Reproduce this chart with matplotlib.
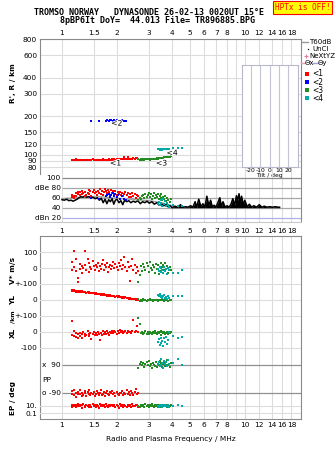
import matplotlib
matplotlib.use('Agg')
import matplotlib.pyplot as plt
import matplotlib.patheffects as pe

W, H = 335, 451
plt.rcParams['font.family'] = 'DejaVu Sans'

# echo traces: freq (MHz), R' (km), V* (m/s), YL, XL (km), PP, EP (deg), amplitude (dBe)
red_f = [1.13, 1.14, 1.16, 1.17, 1.19, 1.20, 1.22, 1.23,
         1.25, 1.26, 1.28, 1.29, 1.31, 1.33, 1.34, 1.36,
         1.38, 1.40, 1.41, 1.43, 1.45, 1.47, 1.49, 1.51,
         1.53, 1.55, 1.57, 1.59, 1.61, 1.63, 1.65, 1.67,
         1.69, 1.72, 1.74, 1.76, 1.78, 1.81, 1.83, 1.86,
         1.88, 1.91, 1.93, 1.96, 1.99, 2.02, 2.04, 2.07,
         2.10, 2.13, 2.16, 2.19, 2.22, 2.26, 2.29, 2.32,
         2.36, 2.39, 2.43, 2.46, 2.50, 2.54, 2.58, 2.62]
red_h = [91.5, 92.0, 91.2, 91.8, 92.3, 91.0, 91.6, 92.1,
         91.4, 90.8, 91.9, 92.2, 91.3, 91.7, 90.9, 91.5,
         92.0, 91.2, 91.6, 90.7, 91.8, 92.4, 91.1, 91.5,
         91.9, 91.3, 90.9, 91.6, 92.1, 91.4, 91.8, 92.3,
         91.0, 91.7, 92.2, 91.5, 91.9, 92.6, 91.4, 92.0,
         92.3, 91.8, 92.5, 92.0, 92.8, 93.2, 92.4, 92.9,
         93.4, 92.7, 93.1, 95.8, 93.5, 92.9, 96.2, 93.3,
         93.8, 92.8, 93.5, 94.1, 93.2, 93.9, 94.4, 93.6]
red_v = [41, -15, 8, 110, 60, -20, -88, -60,
         25, -5, 12, -30, 3, 110, 18, -10,
         60, -22, 30, 5, -8, 45, 15, -12,
         22, 8, 35, -18, 12, -4, 28, 50,
         -10, 18, 5, 32, -25, 10, 22, -6,
         15, 40, -2, 25, 8, -15, 30, 12,
         54, -3, 20, 69, 10, -20, 38, 5,
         -84, 15, 58, -12, 22, -30, 8, -18]
red_yl = [63, 58, 61, 55, 59, 53, 57, 52,
          55, 50, 54, 49, 52, 47, 51, 46,
          49, 44, 47, 42, 46, 41, 44, 40,
          42, 37, 40, 35, 39, 34, 37, 33,
          35, 30, 33, 28, 31, 26, 30, 25,
          27, 22, 25, 20, 24, 18, 22, 17,
          19, 14, 17, 12, 16, 10, 14, 9,
          11, 6, 9, 4, 8, 2, 6, 0]
red_xl = [70, -18, -25, 5, -8, -30, -15, -40,
          -5, -22, -12, -35, -2, -28, -10, -20,
          8, -15, -25, -6, -45, -12, -3, -18,
          -8, -20, 2, -14, -50, -6, -16, 4,
          -10, 0, -12, 6, -4, -18, 2, -8,
          5, -6, 8, -2, -10, 4, -5, 10,
          -3, 6, -8, 2, 9, -4, 5, -1,
          3, -6, 7, 75, -2, 8, 37, 1]
red_pp = [-78, -95, -70, -102, -88, -110, -82, -96,
          -68, -92, -105, -85, -99, -75, -90, -108,
          -84, -97, -72, -101, -88, -93, -80, -106,
          -95, -78, -90, -103, -86, -70, -98, -92,
          -82, -107, -89, -76, -95, -100, -84, -91,
          -73, -96, -88, -104, -80, -93, -99, -86,
          -90, -77, -102, -85, -95, -66, -92, -81,
          -98, -74, -89, -100, -83, -62, -94, -88]
red_ep = [12, 5, 20, 8, 15, 4, 25, 10,
          7, 18, 3, 13, 22, 6, 11, 16,
          9, 4, 19, 12, 6, 28, 8, 14,
          5, 17, 10, 3, 21, 9, 13, 7,
          15, 6, 24, 11, 4, 18, 8, 12,
          20, 7, 13, 5, 16, 10, 3, 22,
          8, 14, 6, 19, 11, 4, 17, 9,
          13, 5, 21, 10, 7, 15, 12, 6]
red_amp = [62, 66, 60, 64, 70, 63, 68, 72,
           65, 71, 67, 74, 69, 63, 72, 66,
           70, 75, 68, 73, 64, 71, 76, 69,
           72, 66, 74, 70, 77, 68, 73, 65,
           71, 78, 74, 69, 76, 72, 66, 75,
           70, 73, 67, 74, 65, 71, 68, 72,
           66, 70, 63, 68, 72, 65, 69, 62,
           67, 61, 70, 64, 68, 60, 65, 63]

blue_f = [1.44, 1.59, 1.74, 1.77, 1.80, 1.83, 1.86, 1.89,
          1.92, 1.95, 1.99, 2.03, 2.08, 2.13, 2.19, 2.24]
blue_h = [183, 183, 185, 186, 185, 187, 186, 184,
          186, 185, 186, 184, 185, 186, 184, 185]
blue_amp = [60, 57, 63, 66, 68, 62, 65, 70,
            64, 67, 61, 66, 58, 63, 57, 55]

green_f = [2.62, 2.66, 2.70, 2.74, 2.78, 2.82, 2.86, 2.90,
           2.94, 2.98, 3.02, 3.06, 3.10, 3.14, 3.18, 3.22,
           3.26, 3.30, 3.34, 3.38, 3.42, 3.46, 3.50, 3.54,
           3.58, 3.62, 3.66, 3.70, 3.76, 3.82, 3.88, 3.95]
green_h = [92.5, 91.8, 92.8, 92.2, 93.0, 91.9, 92.6, 93.1,
           92.4, 92.9, 92.0, 93.3, 92.7, 93.5, 92.9, 93.8,
           93.2, 94.0, 93.6, 94.3, 94.8, 94.1, 95.0, 95.4,
           95.1, 95.8, 96.2, 95.7, 96.6, 97.0, 96.5, 97.4]
green_v = [-85, -42, 12, -20, 25, 5, -10, 30,
           15, -25, 38, 0, -15, 22, 8, -30,
           28, -8, 18, -35, 10, 35, -18, 4,
           20, -12, 32, -5, 14, -28, 6, -15]
green_yl = [8, -8, 2, -4, 5, -2, 3, -6,
            1, -3, 4, -1, 2, -5, 0, 3,
            -2, 1, -4, 2, -1, 3, -3, 0,
            2, -6, 1, -2, 4, -8, 0, -3]
green_xl = [86, 50, -8, 2, -12, -4, 5, -15,
            -2, -10, 3, -6, -14, 0, -8, 4,
            -5, -12, 2, -9, -3, 6, -16, -1,
            -7, 3, -11, -4, 1, -13, -6, 0]
green_pp = [72, 95, 110, 85, 100, 78, 92, 105,
            88, 115, 80, 97, 70, 102, 90, 84,
            108, 76, 94, 86, 112, 82, 99, 73,
            96, 104, 81, 90, 118, 87, 75, 100]
green_ep = [10, 5, 18, 8, 14, 6, 22, 9,
            12, 4, 16, 7, 25, 11, 5, 13,
            8, 20, 6, 15, 10, 4, 17, 9,
            14, 7, 11, 19, 5, 12, 8, 16]
green_amp = [55, 60, 57, 63, 66, 59, 68, 62,
             65, 70, 61, 67, 58, 64, 69, 60,
             66, 62, 68, 57, 64, 60, 67, 55,
             61, 58, 64, 54, 60, 56, 52, 58]

cyan_f = [3.34, 3.38, 3.42, 3.46, 3.50, 3.54, 3.58, 3.62,
          3.66, 3.70, 3.74, 3.78, 3.84, 4.05, 4.30, 4.52]
cyan_h = [110.5, 111.0, 110.0, 110.8, 111.2, 110.3, 110.9, 111.5,
          110.6, 111.1, 110.4, 111.3, 110.8, 112.5, 113.0, 112.7]
cyan_v = [-5, -18, 10, -25, 2, -12, -30, 5,
          -20, -8, -35, -2, -15, -28, -30, -10]
cyan_yl = [30, 22, 35, 18, 28, 12, 25, 32,
           15, 20, 8, 26, 14, 24, 25, 25]
cyan_xl = [-60, -45, -80, -35, -70, -55, -88, -40,
           -65, -30, -75, -50, 0, -25, -40, -30]
cyan_pp = [95, 110, 80, 125, 88, 100, 72, 115,
           92, 105, 84, 118, 96, 102, 128, 85]
cyan_ep = [10, 6, 14, 8, 18, 5, 12, 9,
           15, 7, 11, 13, 6, 10, 12, 9]
cyan_amp = [48, 52, 45, 55, 50, 43, 58, 47,
            53, 44, 50, 46, 42, 45, 44, 43]

# receiver noise / clutter level (dBe)
noise_f = [1.00, 1.03, 1.06, 1.09, 1.12, 1.15, 1.18, 1.21, 1.24, 1.27,
           1.30, 1.33, 1.36, 1.40, 1.44, 1.48, 1.52, 1.56, 1.60, 1.64,
           1.68, 1.72, 1.76, 1.80, 1.84, 1.88, 1.92, 1.96, 2.00, 2.05,
           2.10, 2.15, 2.20, 2.26, 2.32, 2.38, 2.45, 2.52, 2.60, 2.68,
           2.76, 2.84, 2.92, 3.00, 3.10, 3.20, 3.30, 3.40, 3.50, 3.60,
           3.70, 3.80, 3.90, 4.00, 4.15, 4.30, 4.45, 4.60, 4.75, 4.90,
           5.05, 5.20, 5.35, 5.45, 5.60, 5.75, 5.90, 6.05, 6.20, 6.35,
           6.50, 6.65, 6.80, 6.95, 7.10, 7.30, 7.45, 7.60, 7.80, 8.00,
           8.20, 8.40, 8.60, 8.80, 9.00, 9.15, 9.30, 9.45, 9.60, 9.80,
           10.0, 10.3, 10.6, 10.9, 11.2, 11.6, 12.0, 12.4, 12.8, 13.2,
           13.7, 14.2, 14.7, 15.2, 15.5]
noise_db = [56, 55, 57, 54, 55, 53, 55, 57, 60, 62,
            61, 63, 61, 62, 60, 61, 58, 60, 55, 59,
            50, 57, 48, 56, 52, 58, 47, 55, 57, 50,
            54, 46, 55, 52, 54, 50, 53, 51, 54, 48,
            52, 50, 53, 49, 52, 47, 50, 45, 48, 44,
            46, 42, 44, 40, 43, 41, 46, 41, 42, 41,
            44, 41, 52, 41, 57, 42, 48, 41, 63, 44,
            55, 41, 45, 41, 49, 60, 42, 52, 41, 44,
            41, 47, 58, 45, 64, 55, 68, 50, 63, 46,
            55, 42, 47, 41, 44, 41, 46, 41, 43, 41,
            42, 41, 42, 41, 41]
t60_f = [1.0, 1.3, 1.6, 2.0, 2.5, 3.0, 3.5, 4.0]
t60_db = [58, 61, 62, 59, 56, 54, 50, 44]

freq_ticks = [1, 1.5, 2, 3, 4, 5, 6, 7, 8, 9, 10, 12, 14, 16, 18]
freq_labels = ['1', '1.5', '2', '3', '4', '5', '6', '7', '8', '9', '10', '12', '14', '16', '18']
height_ticks = [80, 90, 100, 120, 150, 200, 300, 400, 600, 800]
tilt_ticks = [-20, -10, 0, 10, 20]

FMIN, FMAX = 0.758, 20.3
GRID = '#dcdcdc'
FRAME = '#8a8a8a'
FS = 5.3


def box(x0, y0, x1, y1):
    return [x0 / W, 1 - y1 / H, (x1 - x0) / W, (y1 - y0) / H]


def freq_axes(x0, y0, x1, y1):
    ax = fig.add_axes(box(x0, y0, x1, y1))
    ax.set_facecolor('none')
    ax.set_xscale('log')
    ax.set_xlim(FMIN, FMAX)
    ax.minorticks_off()
    ax.set_xticks(freq_ticks)
    ax.set_xticklabels([])
    ax.tick_params(length=0, labelsize=FS, pad=2)
    for s in ax.spines.values():
        s.set_color(FRAME)
        s.set_linewidth(0.8)
    return ax


def dots(ax, f, y, color, ms=1.6):
    ax.plot(f, y, 's', ms=ms, mew=0, color=color, zorder=3)


fig = plt.figure(figsize=(W / 100, H / 100), dpi=100)

RED, BLUE, GREEN, CYAN = '#ff0000', '#0000ff', '#228b22', '#00aaaa'

# ---- range panel
ax_h = freq_axes(40, 39, 301, 174)
ax_h.set_yscale('log')
ax_h.set_ylim(71.1, 800)
ax_h.minorticks_off()
ax_h.set_xticks(freq_ticks)
ax_h.set_xticklabels([l if l != '9' else '' for l in freq_labels])
ax_h.xaxis.tick_top()
ax_h.set_yticks(height_ticks)
ax_h.set_yticklabels([str(t) for t in height_ticks])
ax_h.tick_params(length=0, labelsize=FS, pad=2)
ax_h.grid(True, color=GRID, lw=0.8)
ax_h.spines['bottom'].set_visible(False)
dots(ax_h, red_f, red_h, RED)
dots(ax_h, blue_f, blue_h, BLUE)
dots(ax_h, green_f, green_h, GREEN)
dots(ax_h, cyan_f, cyan_h, CYAN)
halo = [pe.withStroke(linewidth=1.5, foreground='white')]
for f, h, lab in [(1.96, 86.6, '<1'), (1.99, 177, '<2'), (3.5, 86.6, '<3'), (4.0, 104, '<4')]:
    ax_h.text(f, h, lab, fontsize=5.5, ha='center', va='center', path_effects=halo, zorder=4)

# tilt inset
ax_t = fig.add_axes(box(241.7, 65, 297.7, 167))
ax_t.set_xlim(-30, 30)
ax_t.set_yticks([])
ax_t.set_xticks(tilt_ticks)
ax_t.set_xticklabels(['-20', '-10', '0', '10', '20'])
ax_t.tick_params(length=0, labelsize=4.3, pad=1)
ax_t.set_xlabel('Tilt / deg', fontsize=4.3, labelpad=0)
for t in tilt_ticks:
    ax_t.axvline(t, color='#c4c4d4', lw=0.8)
for s in ax_t.spines.values():
    s.set_color('#b8b8cc')

# ---- amplitude panel
ax_d = freq_axes(40, 174, 301, 222)
ax_d.set_ylim(11.4, 107.4)
ax_d.set_yticks([])
ax_d.set_xticklabels(freq_labels)
ax_d.tick_params(axis='x', pad=4)
ax_d.grid(True, axis='x', color=GRID, lw=0.8)
ax_d.spines['left'].set_visible(False)
ax_d.spines['top'].set_visible(False)
ax_d.spines['bottom'].set_color('#c8c8c8')
for lev, lab in [(100, '100'), (80, 'dBe 80'), (60, '60'), (40, '40'), (20, 'dBn 20')]:
    col = '#b0b0e8' if lev == 20 else ('#8a8a8a' if lev == 100 else '#a8a8a8')
    ax_d.hlines(lev, 1.0, FMAX, color=col, lw=0.9)
    ax_d.text(0.985, lev, lab, ha='right', va='center', fontsize=FS)
ax_d.plot(t60_f, t60_db, color='#a0a0a0', lw=1.0, zorder=2)
ax_d.fill_between(noise_f, 40, noise_db, where=[f >= 4.0 for f in noise_f],
                  color='black', lw=0, zorder=2)
ax_d.plot(noise_f, noise_db, color='black', lw=1.1, zorder=2)
dots(ax_d, red_f, red_amp, RED, 1.9)
dots(ax_d, blue_f, blue_amp, BLUE, 1.9)
dots(ax_d, green_f, green_amp, GREEN, 1.9)
dots(ax_d, cyan_f, cyan_amp, CYAN, 1.9)

# ---- lower frame
ax_low = freq_axes(40, 235.7, 301, 419)
ax_low.set_yticks([])
ax_low.set_xticklabels([l if l != '9' else '' for l in freq_labels])
ax_low.grid(True, axis='x', color=GRID, lw=0.8)
ax_low.set_xlabel('Radio and Plasma Frequency / MHz', fontsize=5.3, labelpad=6)


def strip(y0, y1, ylim, ticks, labels, log=False):
    ax = freq_axes(40, y0, 301, y1)
    if log:
        ax.set_yscale('log')
    ax.set_ylim(*ylim)
    ax.minorticks_off()
    ax.set_xticks([])
    ax.set_yticks(ticks)
    ax.set_yticklabels(labels)
    ax.tick_params(length=0, labelsize=FS, pad=2)
    for s in ax.spines.values():
        s.set_visible(False)
    return ax


ax_v = strip(235.7, 284, (-100, 204), [100, 0], ['100', '0'])
ax_yl = strip(284, 316, (-100, 100), [100, 0], ['+-100', '0'])
ax_xl = strip(316, 356, (-150, 100), [100, 0, -100], ['+-100', '0', '-100'])
ax_pp = strip(356, 400, (-132, 144.7), [], [])
ax_ep = strip(400, 419, (10 ** -2.5, 10 ** 2.5), [10, 0.1], ['10.', '0.1'], log=True)

for ax, levs in [(ax_v, [100, 0]), (ax_yl, [100, 0]), (ax_xl, [100, 0, -100]), (ax_ep, [10, 0.1])]:
    for lev in levs:
        ax.axhline(lev, color=GRID, lw=0.8, zorder=1)
ax_pp.hlines([90, -90], 1.0, FMAX, color='#909090', lw=0.9)
ax_pp.text(0.985, 90, 'x  90', ha='right', va='center', fontsize=FS)
ax_pp.text(0.985, -90, 'o -90', ha='right', va='center', fontsize=FS)
ax_pp.text(0.777, -6, 'PP', ha='left', va='center', fontsize=FS)

for f, v, yl, xl, pp, ep, c in [(red_f, red_v, red_yl, red_xl, red_pp, red_ep, RED),
                                (green_f, green_v, green_yl, green_xl, green_pp, green_ep, GREEN),
                                (cyan_f, cyan_v, cyan_yl, cyan_xl, cyan_pp, cyan_ep, CYAN)]:
    dots(ax_v, f, v, c)
    dots(ax_yl, f, yl, c)
    dots(ax_xl, f, xl, c)
    dots(ax_pp, f, pp, c)
    dots(ax_ep, f, ep, c)

# ---- legend
ax_leg = fig.add_axes(box(300, 36, 335, 104))
ax_leg.set_xlim(300, 335)
ax_leg.set_ylim(104, 36)
ax_leg.axis('off')
lfs = 5
ax_leg.plot([301.5, 307.5], [41.7, 41.7], color='#999999', lw=1)
ax_leg.text(309.5, 41.7, 'T60dB', fontsize=lfs, va='center')
ax_leg.plot([308], [48.6], 's', ms=0.9, mew=0, color='black')
ax_leg.text(312, 48.6, 'UnCl', fontsize=lfs, va='center')
ax_leg.plot([305.5], [55.7], '+', ms=3.2, mew=0.8, color='#e87a9a')
ax_leg.text(309.5, 55.7, 'NeXtYZ', fontsize=lfs, va='center')
ax_leg.plot([300.5, 304.5], [62.8, 62.8], color='#f0a0b0', lw=1)
ax_leg.text(304.5, 62.8, 'Θx', fontsize=lfs, va='center')
ax_leg.plot([312.5, 317.5], [62.8, 62.8], color='#a0a0e0', lw=1)
ax_leg.text(317.5, 62.8, 'Θy', fontsize=lfs, va='center')
for i, (c, lab) in enumerate([(RED, '<1'), (BLUE, '<2'), (GREEN, '<3'), (CYAN, '<4')]):
    y = 74 + i * 8.1
    ax_leg.plot([307], [y], 's', ms=2.3, mew=0, color=c)
    ax_leg.text(312.5, y, lab, fontsize=5.5, va='center')

# ---- titles and axis names
mono = 'DejaVu Sans Mono'
fig.text(149 / W, 1 - 12.7 / H, 'TROMSO NORWAY   DYNASONDE 26-02-13 0020UT 15°E',
         ha='center', va='center', family=mono, fontsize=6, weight='bold')
fig.text(157.5 / W, 1 - 20.5 / H, '8pBP6It DoY=  44.013 File= TR896885.BPG',
         ha='center', va='center', family=mono, fontsize=6, weight='bold')
fig.text(302.5 / W, 1 - 7.5 / H, 'HPTx is OFF!', ha='center', va='center', family=mono,
         fontsize=5.6, color='red',
         bbox=dict(boxstyle='square,pad=0.2', fc='yellow', ec='red', lw=0.8))

for y, lab, fs in [(83, "R', R / km", 5.3), (270, 'V* m/s', 5.3), (300, 'YL', 5.3),
                   (317, '/km', 4.3), (333, 'XL', 5.3), (398, 'EP / deg', 5.3)]:
    fig.text(13 / W, 1 - y / H, lab, rotation=90, ha='center', va='center', fontsize=fs, weight='bold')

fig.savefig('out.png', dpi=100, facecolor='white')
